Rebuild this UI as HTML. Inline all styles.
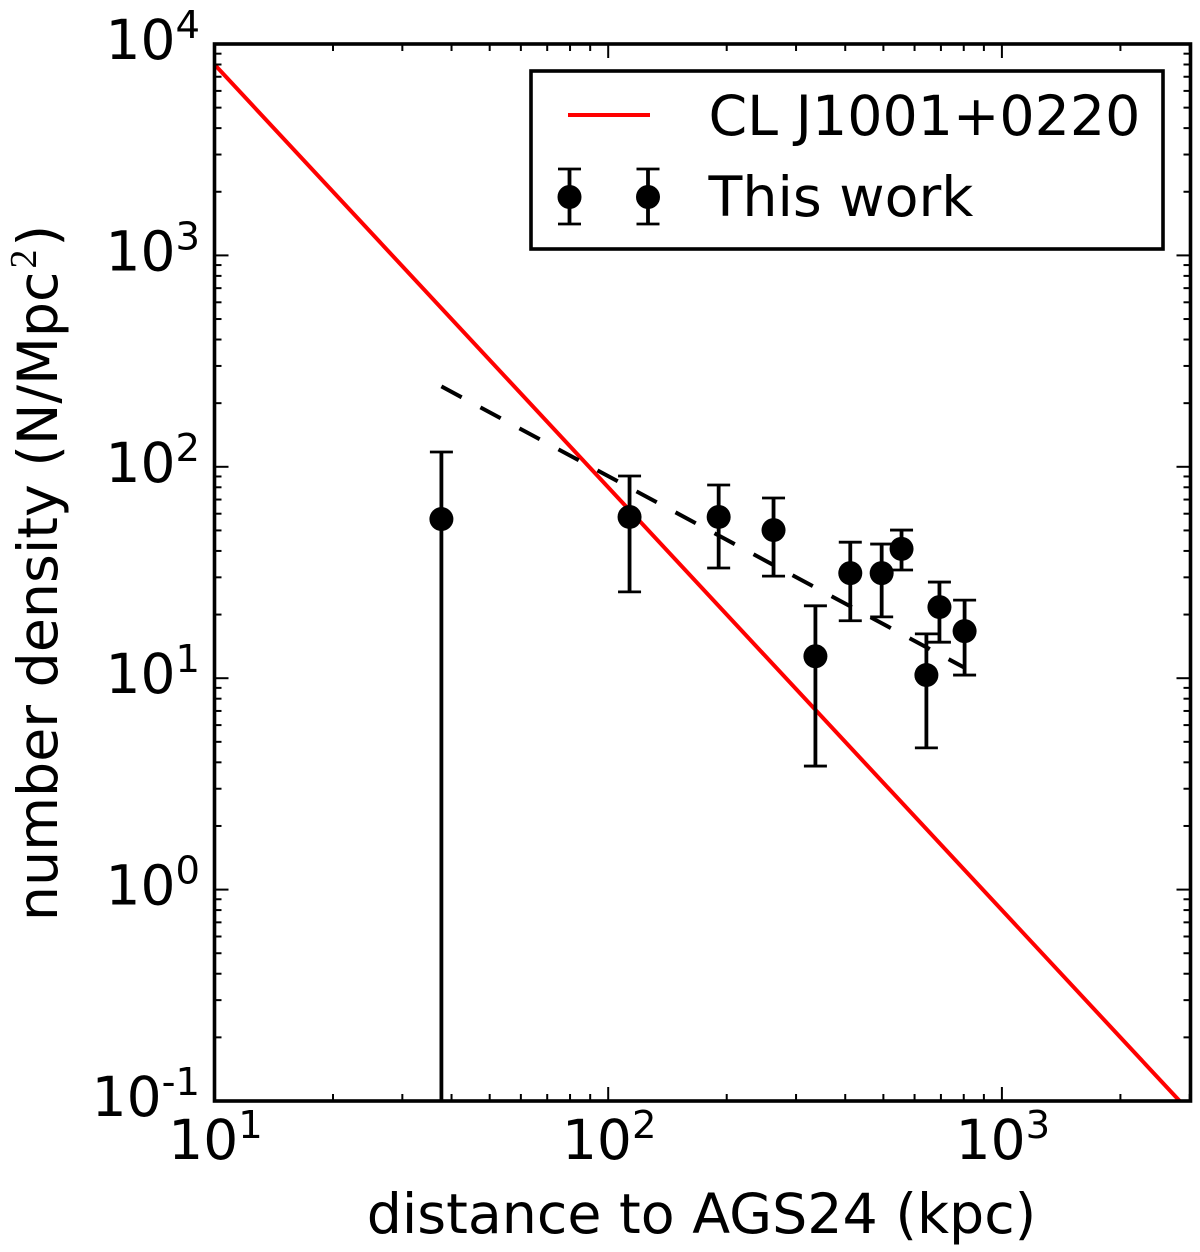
<!DOCTYPE html>
<html lang="en">
<head>
<meta charset="utf-8">
<title>Number density vs distance to AGS24</title>
<style>
html,body{margin:0;padding:0;background:#fff;}
svg{display:block;}
text{font-family:"DejaVu Sans","Liberation Sans",sans-serif;fill:#000;}
</style>
</head>
<body>
<svg id="chart" xmlns="http://www.w3.org/2000/svg" width="1200" height="1252" viewBox="0 0 1200 1252">
<defs><clipPath id="plot-clip"><rect x="214.5" y="44" width="976" height="1057"/></clipPath></defs>
<rect x="214.5" y="44" width="976" height="1057" fill="#fff"/>
<g id="series" clip-path="url(#plot-clip)"></g>
<g id="ticks"></g>
<rect x="214.5" y="44" width="976" height="1057" fill="none" stroke="#000" stroke-width="3.6"/>
<g id="labels"></g>
<text x="701.5" y="1233" font-size="55.4" text-anchor="middle">distance to AGS24 (kpc)</text>
<text transform="translate(57 573) rotate(-90)" font-size="55.4" text-anchor="middle">number density (N/Mpc<tspan dx="3" dy="-21" font-size="38" style="font-family:'Liberation Serif',serif">2</tspan><tspan dx="3" dy="21">)</tspan></text>
<g>
<rect x="531" y="71" width="632" height="178" fill="#fff" stroke="#000" stroke-width="3.6"/>
<line x1="568" x2="650" y1="115" y2="115" stroke="#f00" stroke-width="4"/>
<text x="708.5" y="135" font-size="55.4">CL J1001+0220</text>
<g stroke="#000" stroke-width="3.8">
<line x1="569.5" x2="569.5" y1="169" y2="224"/><line x1="558" x2="581" y1="169" y2="169" stroke-width="2.8"/><line x1="558" x2="581" y1="224" y2="224" stroke-width="2.8"/><circle cx="569.5" cy="197" r="12" stroke="none"/>
<line x1="648" x2="648" y1="169" y2="224"/><line x1="636.5" x2="659.5" y1="169" y2="169" stroke-width="2.8"/><line x1="636.5" x2="659.5" y1="224" y2="224" stroke-width="2.8"/><circle cx="648" cy="197" r="12" stroke="none"/>
</g>
<text x="708.5" y="216" font-size="55.4">This work</text>
</g>
</svg>
<script>
const distance = [37.7, 113.3, 190.8, 263, 336, 412, 495, 556, 643, 694, 804];
const density = [56.6, 57.9, 57.9, 50.2, 12.7, 31.4, 31.4, 40.9, 10.35, 21.7, 16.7];
const densityUpper = [117.5, 90.5, 82, 71.2, 22, 44, 43.1, 50.2, 16.2, 28.5, 23.4];
const densityLower = [0.01, 25.6, 33.2, 30.4, 3.84, 18.7, 19.5, 32.5, 4.68, 14.8, 10.35];
const redLineX = [10, 2828];
const redLineY = [8000, 0.1];
const dashedLineX = [37.7, 804];
const dashedLineY = [240, 11.2];
const xTickExponents = [1, 2, 3];
const yTickExponents = [4, 3, 2, 1, 0, -1];

const NS = 'http://www.w3.org/2000/svg';
const X_LEFT = 214.5, X_RIGHT = 1190.5, Y_TOP = 44, Y_BOTTOM = 1101;
const X_MIN = 1, X_PER_DECADE = 393.7, Y_MAX = 4, Y_PER_DECADE = 211.4;
function xScale(v) { return X_LEFT + (Math.log10(v) - X_MIN) * X_PER_DECADE; }
function yScale(v) { return Y_TOP + (Y_MAX - Math.log10(v)) * Y_PER_DECADE; }
function mk(tag, parent, attrs) {
  const el = document.createElementNS(NS, tag);
  for (const k in attrs) el.setAttribute(k, attrs[k]);
  parent.appendChild(el);
  return el;
}
const series = document.getElementById('series');
const ticks = document.getElementById('ticks');
const labels = document.getElementById('labels');

const redLine = mk('line', series, {x1: xScale(redLineX[0]), y1: yScale(redLineY[0]), x2: xScale(redLineX[1]), y2: yScale(redLineY[1]), stroke: '#f00', 'stroke-width': 4});



const dashedLine = mk('line', series, {x1: xScale(dashedLineX[0]), y1: yScale(dashedLineY[0]), x2: xScale(dashedLineX[1]), y2: yScale(dashedLineY[1]), stroke: '#000', 'stroke-width': 4, 'stroke-dasharray': '23 21.3'});



distance.forEach(function (d, i) {
  const g = mk('g', series, {stroke: '#000'});
  
  
  const cx = xScale(d);
  const top = yScale(densityUpper[i]);
  const bot = yScale(densityLower[i]);
  mk('line', g, {x1: cx, x2: cx, y1: top, y2: bot, 'stroke-width': 3.8});
  mk('line', g, {x1: cx - 11.5, x2: cx + 11.5, y1: top, y2: top, 'stroke-width': 2.8});
  mk('line', g, {x1: cx - 11.5, x2: cx + 11.5, y1: bot, y2: bot, 'stroke-width': 2.8});
  mk('circle', g, {cx: cx, cy: yScale(density[i]), r: 12, fill: '#000', stroke: 'none'});
});

function tickLine(x1, y1, x2, y2, name) {
  const t = mk('line', ticks, {x1: x1, y1: y1, x2: x2, y2: y2, stroke: '#000', 'stroke-width': 2});
  
  
}
for (let e = 1; e <= 3; e++) {
  for (let m = 1; m <= 9; m++) {
    const v = m * Math.pow(10, e);
    const x = xScale(v);
    if (x > X_RIGHT) continue;
    const len = m === 1 ? 14 : 7;
    tickLine(x, Y_BOTTOM, x, Y_BOTTOM - len, 'x-tick-bottom');
    tickLine(x, Y_TOP, x, Y_TOP + len, 'x-tick-top');
  }
}
for (let e = -1; e <= 4; e++) {
  for (let m = 1; m <= 9; m++) {
    const v = m * Math.pow(10, e);
    const y = yScale(v);
    if (y < Y_TOP) continue;
    const len = m === 1 ? 14 : 7;
    tickLine(X_LEFT, y, X_LEFT + len, y, 'y-tick-left');
    tickLine(X_RIGHT, y, X_RIGHT - len, y, 'y-tick-right');
  }
}
function powerLabel(exp, x, y, anchor, name) {
  const t = mk('text', labels, {x: x, y: y, 'font-size': 55, 'text-anchor': anchor});
  
  
  t.appendChild(document.createTextNode('10'));
  const s = mk('tspan', t, {dy: -21, 'font-size': 38.5});
  s.textContent = String(exp);
}
xTickExponents.forEach(function (e) {
  powerLabel(e, xScale(Math.pow(10, e)) + 1, 1159, 'middle', 'x-tick-label-' + e);
});
yTickExponents.forEach(function (e) {
  powerLabel(e, 200, yScale(Math.pow(10, e)) + 15, 'end', 'y-tick-label-' + e);
});
</script>
</body>
</html>
